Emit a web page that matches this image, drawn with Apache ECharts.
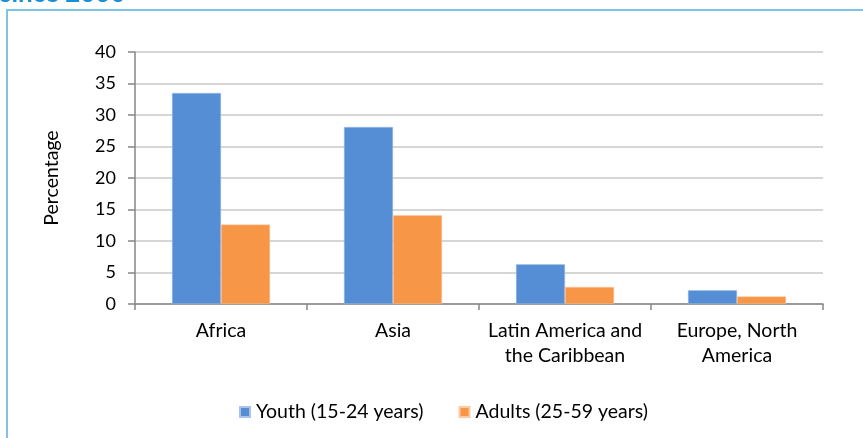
<!DOCTYPE html>
<html><head><meta charset="utf-8">
<script src="https://cdn.jsdelivr.net/npm/echarts@6/dist/echarts.min.js"></script>
<style>html,body{margin:0;padding:0;background:#fff}#c{width:863px;height:438px}</style>
</head><body><div id="c"></div>
<script>
const categories = ['Africa', 'Asia', 'Latin America and\nthe Caribbean', 'Europe, North\nAmerica'];
const youth = [33.5, 28.1, 6.3, 2.2];
const adults = [12.6, 14.1, 2.7, 1.2];
const seriesNames = ['Youth (15-24 years)', 'Adults (25-59 years)'];
const yTicks = [0, 5, 10, 15, 20, 25, 30, 35, 40];

const font = 'Lato';
const chart = echarts.init(document.getElementById('c'), null, {renderer: 'canvas'});
chart.setOption({
  animation: false,
  textStyle: {fontFamily: font},
  graphic: [
    {type: 'rect', shape: {x: 7, y: 10, width: 900, height: 500}, style: {fill: 'none', stroke: '#7fc3e3', lineWidth: 2}, z: -1},
    {type: 'text', x: 0, y: 6.5, style: {text: 'since 2000', font: 'bold 26px Lato', fill: '#1a8fd4', verticalAlign: 'bottom'}}
  ],
  grid: {left: 135, right: 40, top: 52, bottom: 134},
  legend: {
    top: 397, left: 234, itemGap: 35, itemWidth: 10, itemHeight: 10, icon: 'rect',
    textStyle: {fontSize: 19.5, color: '#000', fontFamily: font, padding: [0, 0, 0, 1]}
  },
  xAxis: {
    type: 'category', data: categories,
    axisLine: {lineStyle: {color: '#868686', width: 1.5}},
    axisTick: {show: true, length: 6, lineStyle: {color: '#868686', width: 1.5}},
    axisLabel: {color: '#000', fontSize: 19.5, lineHeight: 25, margin: 14, interval: 0, fontFamily: font}
  },
  yAxis: {
    type: 'value', min: 0, max: 40, interval: 5,
    name: 'Percentage', nameLocation: 'middle', nameGap: 73, nameRotate: 90,
    nameTextStyle: {color: '#000', fontSize: 19.5, fontFamily: font},
    axisLine: {show: true, lineStyle: {color: '#868686', width: 1.5}},
    axisTick: {show: true, length: 7, lineStyle: {color: '#868686', width: 1.5}},
    axisLabel: {color: '#000', fontSize: 18, margin: 19, fontFamily: font,
      formatter: v => yTicks.includes(v) ? String(v) : ''},
    splitLine: {lineStyle: {color: '#c8c8c8', width: 1.5}}
  },
  series: [
    {name: seriesNames[0], type: 'bar', data: youth, barGap: '0%', barCategoryGap: '43%',
     itemStyle: {color: '#558ed5', borderColor: '#a9c4ea', borderWidth: 0.5}},
    {name: seriesNames[1], type: 'bar', data: adults,
     itemStyle: {color: '#f79646', borderColor: '#fbc9a0', borderWidth: 0.5}}
  ]
});
</script></body></html>
